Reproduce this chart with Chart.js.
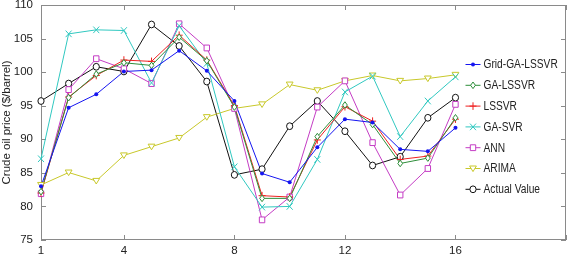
<!DOCTYPE html>
<html>
<head>
<meta charset="utf-8">
<script src="https://cdn.jsdelivr.net/npm/chart.js@4/dist/chart.umd.min.js"></script>
<style>
html,body{margin:0;padding:0;background:#fff;}
#wrap{width:567px;height:258px;position:relative;}
</style>
</head>
<body>
<div id="wrap"><canvas id="c" width="567" height="258"></canvas></div>
<script>
const periods = [1,2,3,4,5,6,7,8,9,10,11,12,13,14,15,16];
const xTickValues = [1,4,8,12,16];
const yTickValues = [75,80,85,90,95,100,105,110];

const gridGaLssvr = [83.0,94.7,96.7,100.1,100.3,103.2,100.2,95.7,84.9,83.6,88.8,93.0,92.5,88.5,88.2,91.7];
const gaLssvr     = [82.2,96.2,99.7,101.4,101.0,105.2,101.7,94.8,81.2,81.2,90.4,95.1,92.2,86.4,87.2,93.2];
const lssvr       = [82.0,96.3,99.5,101.8,101.6,105.5,101.8,95.0,81.6,81.4,89.9,94.85,92.7,87.0,87.5,93.0];
const gaSvr       = [87.1,105.7,106.3,106.2,98.4,106.9,101.3,85.9,79.9,80.0,87.0,97.05,99.4,90.4,95.7,99.3];
const ann         = [81.9,97.4,102.0,100.5,98.3,107.2,103.6,94.6,78.0,81.4,94.8,98.7,89.5,81.7,85.65,95.2];
const arima       = [83.2,85.05,83.8,87.6,88.9,90.2,93.3,94.6,95.2,98.15,97.3,98.7,99.5,98.7,99.05,99.6];
const actual      = [95.7,98.3,100.8,100.1,107.1,103.9,98.6,84.7,85.55,91.95,95.7,91.2,86.1,87.4,93.2,96.2];

const seriesNames = ['Grid-GA-LSSVR','GA-LSSVR','LSSVR','GA-SVR','ANN','ARIMA','Actual Value'];
const seriesValues = [gridGaLssvr, gaLssvr, lssvr, gaSvr, ann, arima, actual];
const seriesColors = ['#1515f0','#2e8e3a','#ee2020','#30c8c0','#c43cc4','#c8c82a','#111111'];
const seriesMarkers = ['dot','diamond','plus','x','square','triangleDown','circle'];

const FONT = "'Liberation Sans', Arial, sans-serif";

function drawMarker(ctx, type, x, y, color) {
  ctx.save();
  ctx.strokeStyle = color;
  ctx.fillStyle = color;
  ctx.lineWidth = 1;
  ctx.beginPath();
  switch (type) {
    case 'dot':
      ctx.arc(x, y, 2, 0, Math.PI * 2);
      ctx.fill();
      break;
    case 'diamond':
      ctx.moveTo(x, y - 3.3); ctx.lineTo(x + 2.4, y); ctx.lineTo(x, y + 3.3); ctx.lineTo(x - 2.4, y); ctx.closePath();
      ctx.fillStyle = '#fff'; ctx.fill(); ctx.stroke();
      break;
    case 'plus':
      ctx.moveTo(x - 3.5, y); ctx.lineTo(x + 3.5, y); ctx.moveTo(x, y - 3.8); ctx.lineTo(x, y + 3.8);
      ctx.stroke();
      break;
    case 'x':
      ctx.moveTo(x - 3, y - 3.3); ctx.lineTo(x + 3, y + 3.3); ctx.moveTo(x + 3, y - 3.3); ctx.lineTo(x - 3, y + 3.3);
      ctx.stroke();
      break;
    case 'square':
      ctx.rect(x - 2.7, y - 2.9, 5.4, 5.8);
      ctx.fillStyle = '#fff'; ctx.fill(); ctx.stroke();
      break;
    case 'triangleDown':
      ctx.moveTo(x - 3.4, y - 2.5); ctx.lineTo(x + 3.4, y - 2.5); ctx.lineTo(x, y + 3.1); ctx.closePath();
      ctx.fillStyle = '#fff'; ctx.fill(); ctx.stroke();
      break;
    case 'circle':
      ctx.ellipse(x, y, 3.1, 3.4, 0, 0, Math.PI * 2);
      ctx.fillStyle = '#fff'; ctx.fill(); ctx.stroke();
      break;
  }
  ctx.restore();
}

const framePlugin = {
  id: 'frame',
  beforeDatasetsDraw(chart) {
    const {ctx, chartArea: a, scales: {x, y}} = chart;
    ctx.save();
    ctx.strokeStyle = '#8a8a8a';
    ctx.lineWidth = 1;
    ctx.strokeRect(Math.round(a.left) + 0.5, Math.round(a.top) + 0.5, Math.round(a.width) - 1, Math.round(a.height) - 1);
    ctx.beginPath();
    const tl = 5;
    xTickValues.concat([20]).forEach(v => {
      const px = Math.round(x.getPixelForValue(v)) + 0.5;
      ctx.moveTo(px, a.bottom); ctx.lineTo(px, a.bottom - tl);
      ctx.moveTo(px, a.top); ctx.lineTo(px, a.top + tl);
    });
    yTickValues.forEach(v => {
      const py = Math.round(y.getPixelForValue(v)) + 0.5;
      ctx.moveTo(a.left, py); ctx.lineTo(a.left + tl, py);
      ctx.moveTo(a.right, py); ctx.lineTo(a.right - tl, py);
    });
    ctx.stroke();
    ctx.restore();
  }
};

const markerPlugin = {
  id: 'markers',
  afterDatasetsDraw(chart) {
    const ctx = chart.ctx;
    for (let i = chart.data.datasets.length - 1; i >= 0; i--) {
      const meta = chart.getDatasetMeta(i);
      meta.data.forEach(pt => drawMarker(ctx, seriesMarkers[i], pt.x, pt.y, seriesColors[i]));
    }
  },
  afterDraw(chart) {
    const {ctx, chartArea: a} = chart;
    const lx = a.right - 100.5;
    let ly = a.top + 59.5;
    ctx.save();
    ctx.font = "12px " + FONT;
    ctx.textBaseline = 'middle';
    ctx.textAlign = 'left';
    seriesNames.forEach((name, i) => {
      ctx.strokeStyle = seriesColors[i];
      ctx.lineWidth = 1;
      ctx.beginPath();
      ctx.moveTo(lx, ly); ctx.lineTo(lx + 15, ly);
      ctx.stroke();
      drawMarker(ctx, seriesMarkers[i], lx + 7.5, ly, seriesColors[i]);
      ctx.fillStyle = '#222';
      ctx.save();
      ctx.translate(lx + 18, ly + 0.5);
      ctx.scale(0.85, 1);
      ctx.fillText(name, 0, 0);
      ctx.restore();
      ly += 20.8;
    });
    ctx.restore();
  }
};

const datasets = seriesNames.map((name, i) => ({
  label: name,
  data: periods.map((p, k) => ({x: p, y: seriesValues[i][k]})),
  borderColor: seriesColors[i],
  backgroundColor: seriesColors[i],
  borderWidth: 1,
  pointRadius: 0,
  tension: 0,
  clip: false
}));

new Chart(document.getElementById('c'), {
  type: 'line',
  data: {datasets},
  plugins: [framePlugin, markerPlugin],
  options: {
    responsive: false,
    animation: false,
    devicePixelRatio: 1,
    layout: {padding: {top: 5, right: 1, left: 0, bottom: 0}},
    plugins: {legend: {display: false}, tooltip: {enabled: false}},
    scales: {
      x: {
        type: 'linear',
        min: 1, max: 20,
        afterBuildTicks: s => { s.ticks = xTickValues.map(v => ({value: v})); },
        afterFit: s => { s.height = 18; s.paddingLeft = 0; s.paddingRight = 0; },
        grid: {display: false, drawTicks: false},
        border: {display: false},
        ticks: {color: '#222', font: {family: FONT, size: 11.5}, padding: 4, maxRotation: 0, autoSkip: false}
      },
      y: {
        type: 'linear',
        min: 75, max: 110,
        afterBuildTicks: s => { s.ticks = yTickValues.map(v => ({value: v})); },
        afterFit: s => { s.width = 41; s.paddingTop = 0; s.paddingBottom = 0; },
        grid: {display: false, drawTicks: false},
        border: {display: false},
        title: {display: true, text: 'Crude oil price ($/barrel)', color: '#222', font: {family: FONT, size: 11.5}, padding: {top: 0, bottom: 2}},
        ticks: {color: '#222', font: {family: FONT, size: 11.5}, padding: 8}
      }
    }
  }
});
</script>
</body>
</html>
